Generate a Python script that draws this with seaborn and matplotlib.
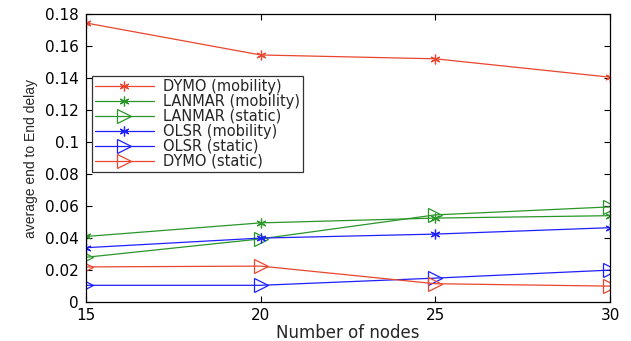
import matplotlib
matplotlib.use("Agg")
import matplotlib.pyplot as plt
import seaborn as sns
import pandas as pd

nodes = [15, 20, 25, 30]
dymo_mob = [0.1744, 0.1544, 0.1520, 0.1405]
lanmar_mob = [0.0410, 0.0495, 0.0525, 0.0540]
lanmar_sta = [0.0280, 0.0395, 0.0545, 0.0595]
olsr_mob = [0.0340, 0.0400, 0.0425, 0.0465]
olsr_sta = [0.0105, 0.0105, 0.0150, 0.0200]
dymo_sta = [0.0220, 0.0225, 0.0115, 0.0100]

names = ["DYMO (mobility)", "LANMAR (mobility)", "LANMAR (static)",
         "OLSR (mobility)", "OLSR (static)", "DYMO (static)"]
series = [dymo_mob, lanmar_mob, lanmar_sta, olsr_mob, olsr_sta, dymo_sta]

rows = []
for n, s in zip(names, series):
    for x, y in zip(nodes, s):
        rows.append({"nodes": x, "delay": y, "series": n})
df = pd.DataFrame(rows)

sns.set_theme(style="white")
plt.rcParams['font.family'] = ['DejaVu Sans']

red = "#e8462e"
green = "#2a962a"
blue = "#1f1fff"
palette = {names[0]: red, names[1]: green, names[2]: green,
           names[3]: blue, names[4]: blue, names[5]: red}
markers = {names[0]: "*", names[1]: "*", names[2]: ">",
           names[3]: "*", names[4]: ">", names[5]: ">"}

fig = plt.figure(figsize=(6.31, 3.41), dpi=100)
ax = fig.add_axes([0.136, 0.114, 0.831, 0.845])

sns.lineplot(data=df, x="nodes", y="delay", hue="series", style="series",
             palette=palette, markers=markers, dashes=False, ax=ax,
             linewidth=0.9, markersize=10, markerfacecolor="none",
             hue_order=names, style_order=names)

for line in ax.get_lines():
    m = line.get_marker()
    c = line.get_color()
    line.set_markerfacecolor("none")
    line.set_markeredgecolor(c)
    line.set_markeredgewidth(0.9)
    if m == "*":
        line.set_marker((6, 2, 0))
        line.set_markersize(7)

ax.set_xlim(15, 30)
ax.set_ylim(0, 0.18)
ax.set_xticks([15, 20, 25, 30])
ax.set_yticks([0, 0.02, 0.04, 0.06, 0.08, 0.1, 0.12, 0.14, 0.16, 0.18])
ax.set_yticklabels(["0", "0.02", "0.04", "0.06", "0.08", "0.1", "0.12", "0.14", "0.16", "0.18"])
ax.tick_params(direction="in", length=4, width=0.8, labelsize=11, colors="black",
               top=True, right=True, bottom=True, left=True)
ax.tick_params(axis="x", pad=4)
ax.tick_params(axis="y", pad=5)
for sp in ax.spines.values():
    sp.set_color("black")
    sp.set_linewidth(0.9)
ax.set_xlabel("Number of nodes", fontsize=12, labelpad=1)
ax.set_ylabel("average end to End delay", fontsize=10, labelpad=5,
              family=["Liberation Sans", "DejaVu Sans"])

handles, labels = ax.get_legend_handles_labels()
for h in handles:
    h.set_markerfacecolor("none")
    if h.get_marker() == "*":
        h.set_marker((6, 2, 0))
        h.set_markersize(7)
leg = ax.legend(handles, labels, loc="upper left", bbox_to_anchor=(0.011, 0.785),
                fontsize=10.5, frameon=True, fancybox=False, edgecolor="black",
                handlelength=4.1, labelspacing=0.0, borderpad=0.2,
                handletextpad=0.6, borderaxespad=0)
leg.get_frame().set_linewidth(0.9)

fig.savefig("out.png", dpi=100)
